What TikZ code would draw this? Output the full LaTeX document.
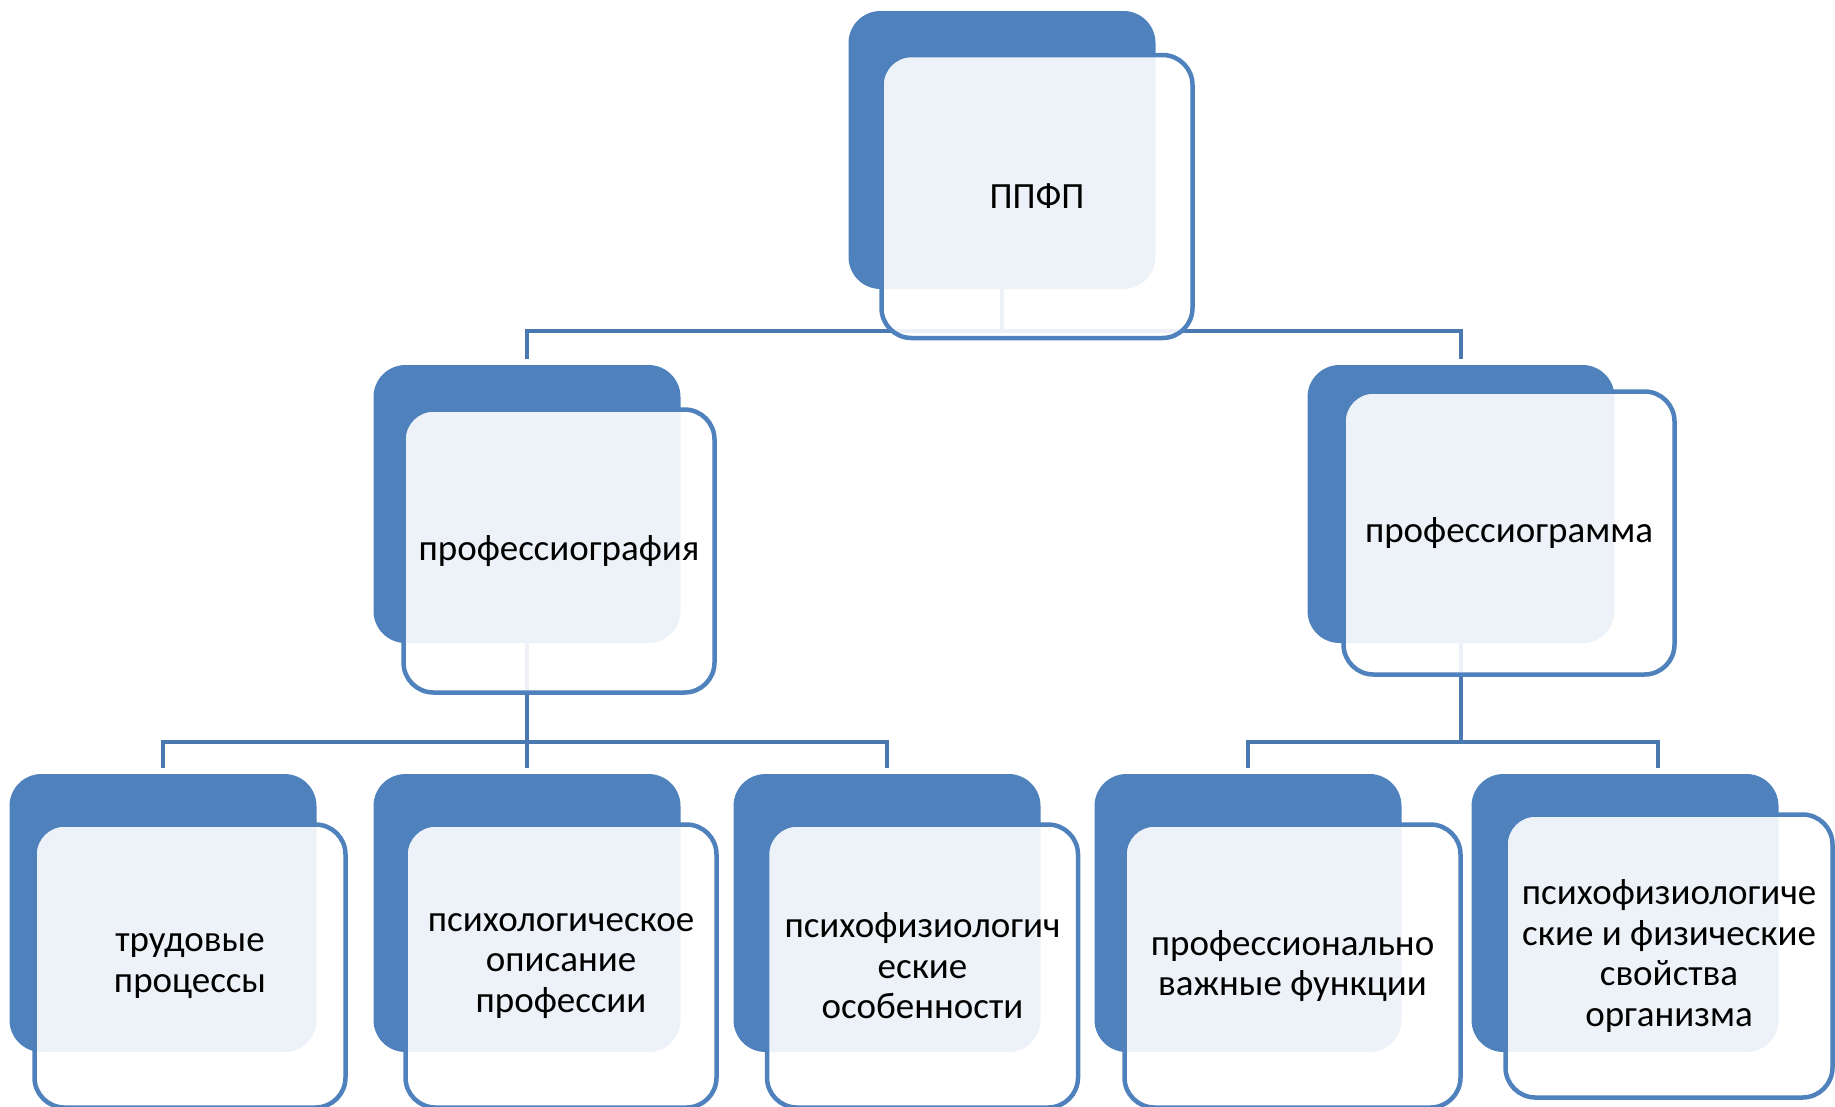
\documentclass[tikz,border=0pt]{standalone}
\usepackage{fontspec}
\setmainfont{Carlito}
\definecolor{chartblue}{HTML}{4F81BD}
\definecolor{branchblue}{HTML}{4A78B0}

\begin{document}
\begin{tikzpicture}[
    x=1pt,
    y=-1pt,
    every node/.style={
        font=\fontsize{37}{40.5}\selectfont,
        align=center
    },
    backbox/.style={
        fill=chartblue,
        rounded corners=32pt,
        minimum width=307pt,
        minimum height=278pt,
        inner sep=0pt
    },
    frontbox/.style={
        draw=chartblue,
        line width=4.5pt,
        rounded corners=30pt,
        fill=white,
        fill opacity=0.9,
        text opacity=1,
        minimum width=311pt,
        minimum height=283pt,
        inner sep=0pt
    },
    branch/.style={
        line width=4pt,
        branchblue,
        shorten >=6pt
    }
]

\useasboundingbox (0,0) rectangle (1835,1106);

\node[backbox] (rootback) at (1002,150) {};
\node[backbox] (graphyback) at (527,504) {};
\node[backbox] (grammaback) at (1461,504) {};
\node[backbox] (laborback) at (163,913) {};
\node[backbox] (psychback) at (527,913) {};
\node[backbox] (featback) at (887,913) {};
\node[backbox] (funcback) at (1248,913) {};
\node[backbox] (bodyback) at (1625,913) {};

\draw[branch]
    (rootback.south) |- ([yshift=34pt]graphyback.north) -- (graphyback.north);
\draw[branch]
    (rootback.south) |- ([yshift=34pt]grammaback.north) -- (grammaback.north);

\draw[branch]
    (graphyback.south) |- ([yshift=32pt]laborback.north) -- (laborback.north);
\draw[branch]
    (graphyback.south) -- (psychback.north);
\draw[branch]
    (graphyback.south) |- ([yshift=32pt]featback.north) -- (featback.north);

\draw[branch]
    (grammaback.south) |- ([yshift=32pt]funcback.north) -- (funcback.north);
\draw[branch]
    (grammaback.south) |- ([xshift=33pt,yshift=32pt]bodyback.north)
    -- ([xshift=33pt]bodyback.north);

\node[frontbox] (root) at (1037,196.5) {ППФП};
\node[frontbox] (graphy) at (559,551) {профессиография};
\node[frontbox, minimum width=331pt] (gramma) at (1509,533) {профессиограмма};

\node[frontbox] (labor) at (190,966) {трудовые\\процессы};
\node[frontbox] (psych) at (561,966) {психологическое\\описание\\профессии};
\node[frontbox] (feat) at (922.5,966) {психофизиологич\\еские\\особенности};
\node[frontbox, minimum width=336pt] (func) at (1292.5,966)
    {профессионально\\важные функции};
\node[frontbox, minimum width=327pt] (body) at (1669,956)
    {психофизиологиче\\ские и физические\\свойства\\организма};

\end{tikzpicture}
\end{document}
